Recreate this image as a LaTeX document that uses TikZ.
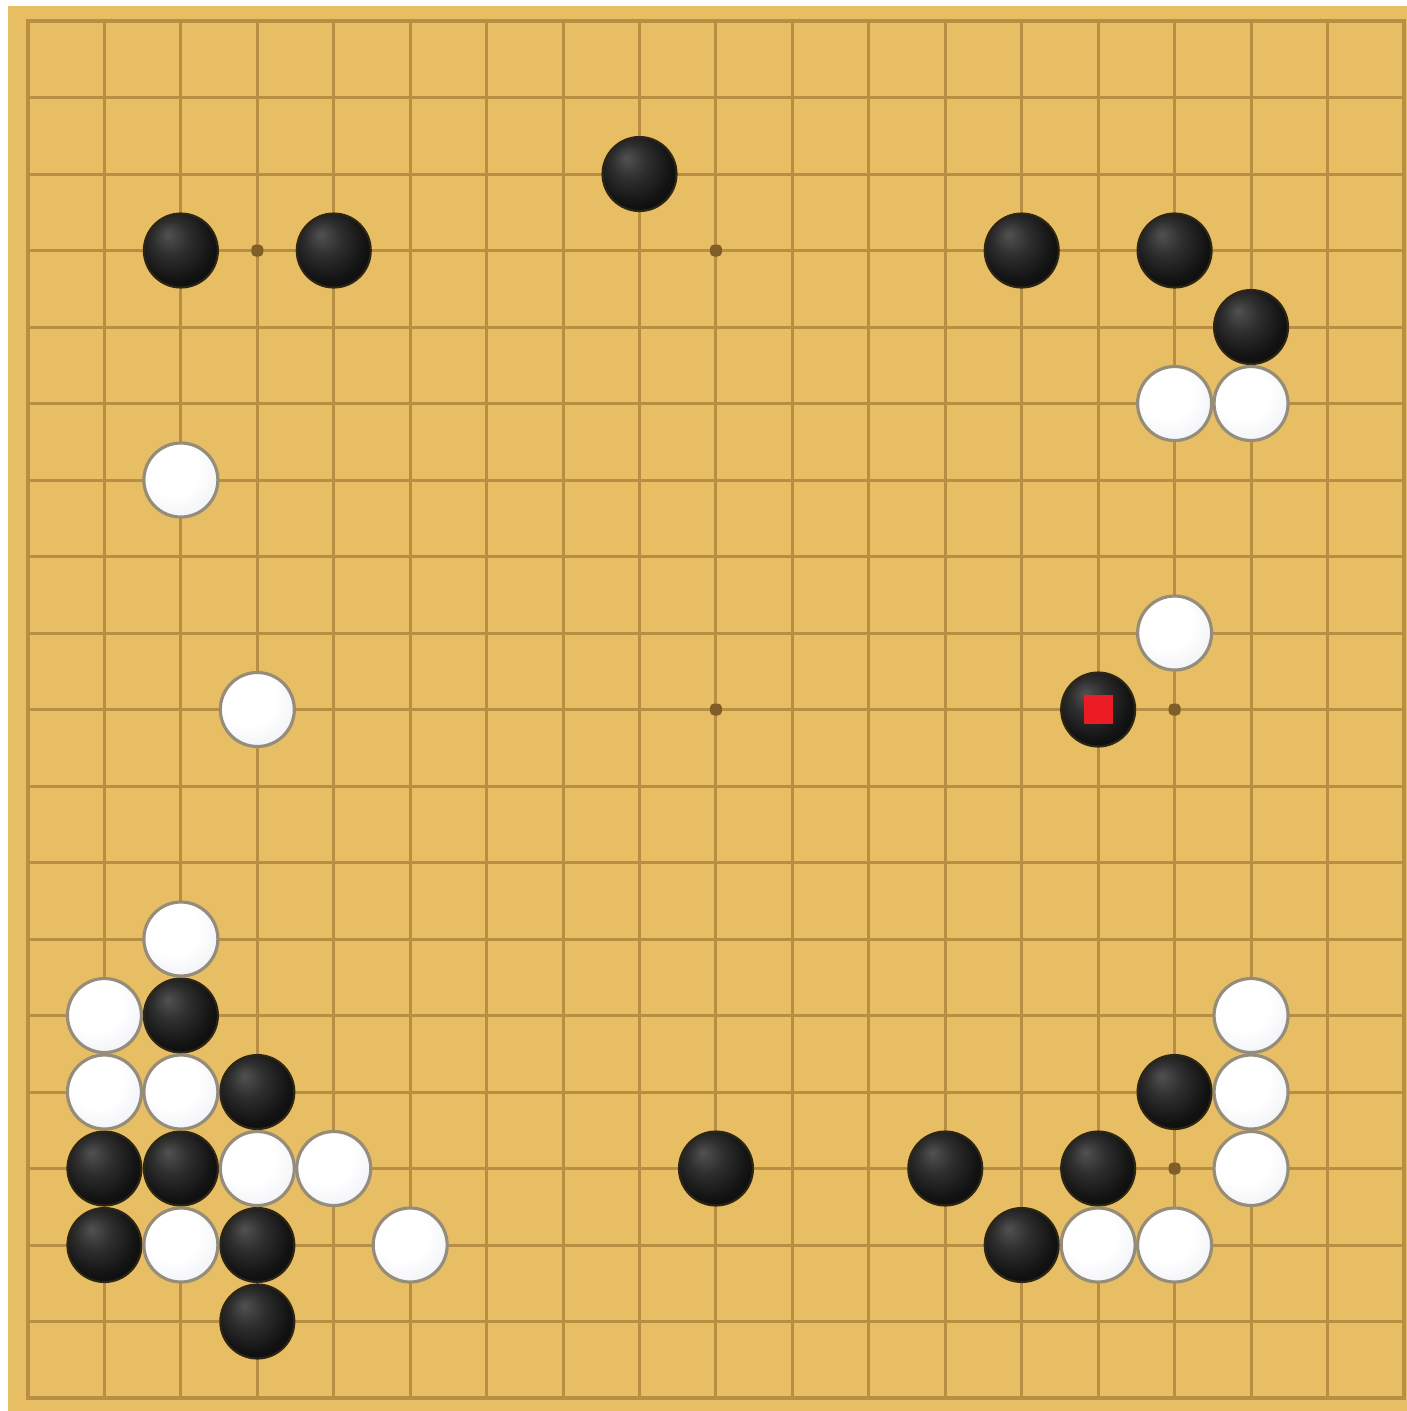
\documentclass[tikz,border=0pt]{standalone}
\definecolor{boardc}{RGB}{232,190,101}
\definecolor{linec}{RGB}{184,142,66}
\definecolor{starc}{RGB}{128,94,42}
\definecolor{markred}{RGB}{236,28,36}
\definecolor{wedge}{RGB}{206,209,218}
\definecolor{wmid}{RGB}{238,240,245}
\definecolor{wline}{RGB}{150,140,122}
\pgfdeclareradialshading{bstoneshade}{\pgfqpoint{-9bp}{11bp}}{color(0bp)=(black!68); color(12bp)=(black!82); color(26bp)=(black!93); color(50bp)=(black)}
\pgfdeclareradialshading{wstoneshade}{\pgfqpoint{-9bp}{11bp}}{color(0bp)=(white); color(18bp)=(white); color(34bp)=(wmid); color(50bp)=(wedge)}
\tikzset{
  blackstone/.style={circle, minimum size=0.74cm, inner sep=0pt, shading=bstoneshade, draw=black!80!boardc, line width=0.6pt},
  whitestone/.style={circle, minimum size=0.74cm, inner sep=0pt, shading=wstoneshade, draw=wline, line width=0.9pt},
  starpt/.style={rectangle, rounded corners=1.2pt, minimum size=0.12cm, inner sep=0pt, fill=starc},
  gridline/.style={draw=linec, line width=0.85pt},
  lastmark/.style={rectangle, minimum size=0.29cm, inner sep=0pt, fill=markred}
}
\begin{document}
\begin{tikzpicture}
\useasboundingbox (0,0) rectangle (14.07,-14.11);
\fill[white] (0,0) rectangle (14.07,-14.11);
\fill[boardc] (0.08,-0.06) rectangle (14.07,-14.11);
\begin{scope}[shift={(0.28,-0.21)}, x=0.7644cm, y=-0.765cm]
  \foreach \i in {0,...,18} {
    \draw[gridline] (\i,0) -- (\i,18);
    \draw[gridline] (0,\i) -- (18,\i);
  }
  \draw[gridline, line width=1.1pt] (0,0) rectangle (18,18);
  \foreach \c in {3,9,15} {
    \foreach \r in {3,9,15} {
      \node[starpt] (star-\c-\r) at (\c,\r) {};
    }
  }
  \foreach \c/\r in {9/3, 3/4, 5/4, 14/4, 16/4, 17/5, 15/10, 3/14, 4/15, 16/15,
                     2/16, 3/16, 10/16, 13/16, 15/16, 2/17, 4/17, 14/17, 4/18} {
    \node[blackstone] (b-\c-\r) at (\c-1,\r-1) {};
  }
  \foreach \c/\r in {16/6, 17/6, 3/7, 16/9, 4/10, 3/13, 2/14, 17/14, 2/15, 3/15,
                     17/15, 4/16, 5/16, 17/16, 3/17, 6/17, 15/17, 16/17} {
    \node[whitestone] (w-\c-\r) at (\c-1,\r-1) {};
  }
  \node[lastmark] (last) at (b-15-10.center) {};
\end{scope}
\end{tikzpicture}
\end{document}
